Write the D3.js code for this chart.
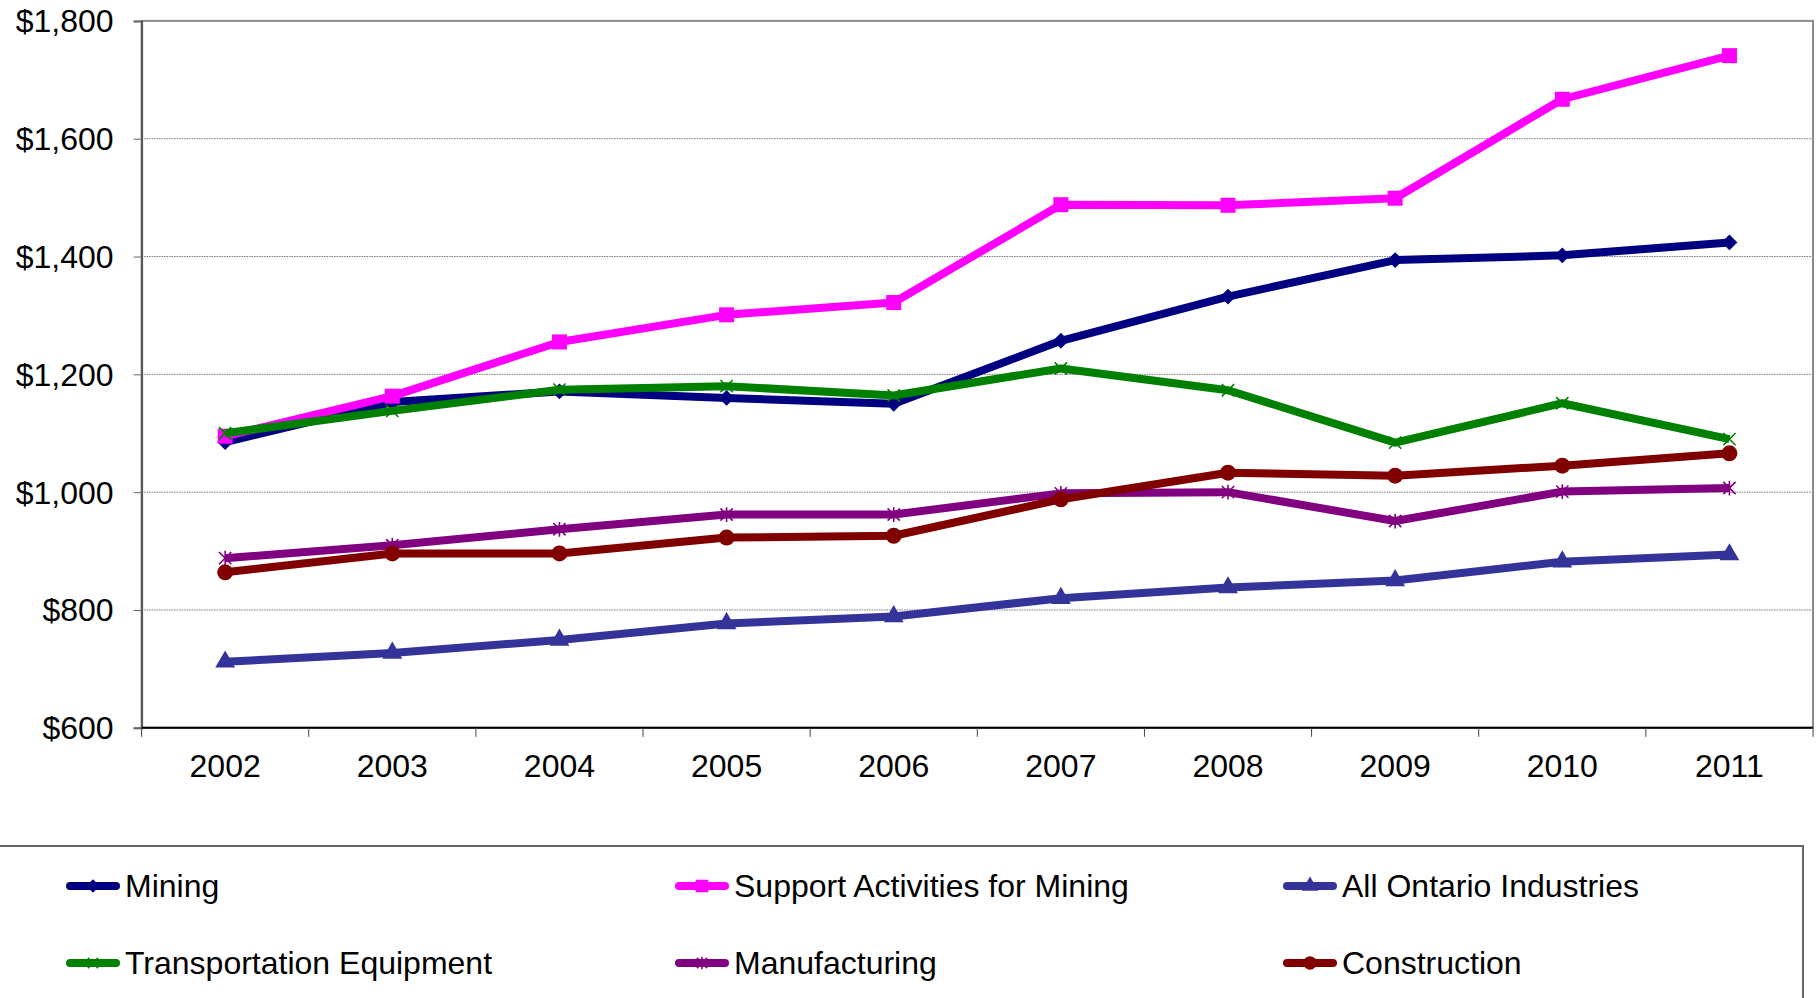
<!DOCTYPE html>
<html>
<head>
<meta charset="utf-8">
<script src="https://cdn.jsdelivr.net/npm/d3@7"></script>
<style>
  html, body { margin: 0; padding: 0; background: #fff; }
  svg { display: block; }
  text { font-family: "Liberation Sans", Arial, sans-serif; fill: #000; }
</style>
</head>
<body>
<svg id="chart" width="1820" height="998"></svg>
<script>
// data
const years = ["2002", "2003", "2004", "2005", "2006", "2007", "2008", "2009", "2010", "2011"];
const yTicks = [600, 800, 1000, 1200, 1400, 1600, 1800];

const mining         = [1085, 1153, 1171, 1160, 1150, 1257, 1332, 1394, 1402, 1424];
const supportMining  = [1095, 1163, 1255, 1301, 1322, 1488, 1487, 1499, 1667, 1741];
const allOntario     = [712, 727, 749, 777, 789, 820, 838, 850, 882, 894];
const transportation = [1100, 1138, 1174, 1180, 1164, 1210, 1173, 1084, 1151, 1090];
const manufacturing  = [888, 910, 937, 962, 962, 998, 1000, 951, 1001, 1007];
const construction   = [864, 896, 896, 923, 926, 988, 1033, 1028, 1045, 1066];

const seriesNames = ["Mining", "Support Activities for Mining", "All Ontario Industries",
                     "Transportation Equipment", "Manufacturing", "Construction"];
const seriesValues = [mining, supportMining, allOntario, transportation, manufacturing, construction];
const seriesColors = ["#000080", "#ff00ff", "#333399", "#008000", "#800080", "#800000"];

// marker shapes, excel style
const diamond = { draw(ctx, size) { const r = Math.sqrt(size) / 2 * 1.15;
  ctx.moveTo(0, -r); ctx.lineTo(r, 0); ctx.lineTo(0, r); ctx.lineTo(-r, 0); ctx.closePath(); } };
const cross = { draw(ctx, size) { const r = Math.sqrt(size) / 2;
  ctx.moveTo(-r, -r); ctx.lineTo(r, r); ctx.moveTo(r, -r); ctx.lineTo(-r, r); } };
const star = { draw(ctx, size) { const r = Math.sqrt(size) / 2;
  ctx.moveTo(-r, -r); ctx.lineTo(r, r); ctx.moveTo(r, -r); ctx.lineTo(-r, r);
  ctx.moveTo(0, -r * 1.2); ctx.lineTo(0, r * 1.2); } };
const seriesSymbols = [diamond, d3.symbolSquare, d3.symbolTriangle, cross, star, d3.symbolCircle];
const symbolSizes = [190, 225, 170, 150, 150, 200];
const symbolStroked = [false, false, false, true, true, false];

const svg = d3.select("#chart");
const plotLeft = 141.6, plotRight = 1813, plotTop = 20.9, plotBottom = 727.8;
const fontSize = 32;

const x = d3.scaleBand().domain(years).range([plotLeft, plotRight]);
const y = d3.scaleLinear().domain([600, 1800]).range([plotBottom, plotTop]);
const cx = d => x(d) + x.bandwidth() / 2;

// grid lines
svg.append("g").selectAll("line")
  .data(yTicks.slice(1, -1))
  .join("line")
    .attr("x1", plotLeft).attr("x2", plotRight)
    .attr("y1", d => y(d)).attr("y2", d => y(d))
    .attr("stroke", "#777").attr("stroke-width", 1)
    .attr("stroke-dasharray", "1.5,1");

// plot border
svg.append("rect")
  .attr("x", plotLeft).attr("y", plotTop)
  .attr("width", plotRight - plotLeft).attr("height", plotBottom - plotTop)
  .attr("fill", "none").attr("stroke", "#8c8c8c").attr("stroke-width", 2);

// y axis
const yAxis = svg.append("g")
  .attr("transform", `translate(${plotLeft},0)`)
  .call(d3.axisLeft(y).tickValues(yTicks).tickSize(8).tickPadding(20)
    .tickFormat(d => "$" + d3.format(",")(d)));
yAxis.select(".domain").attr("stroke", "#555").attr("stroke-width", 2);
yAxis.selectAll(".tick line").attr("stroke", "#666");
yAxis.selectAll("text").attr("font-size", fontSize).attr("font-family", null)
  .attr("fill", "#000").attr("dy", "0.34em");

// x axis: tick marks between categories, labels centered
const xAxis = svg.append("g");
xAxis.append("line")
  .attr("x1", plotLeft).attr("x2", plotRight).attr("y1", plotBottom).attr("y2", plotBottom)
  .attr("stroke", "#000").attr("stroke-width", 2);
xAxis.selectAll("line.tick")
  .data(years.map(d => x(d)).concat([x.range()[1]]))
  .join("line").attr("class", "tick")
    .attr("x1", d => d).attr("x2", d => d)
    .attr("y1", plotBottom).attr("y2", plotBottom + 9)
    .attr("stroke", "#444").attr("stroke-width", 1);
xAxis.selectAll("text")
  .data(years)
  .join("text")
    .attr("x", cx).attr("y", 777)
    .attr("text-anchor", "middle").attr("font-size", fontSize)
    .text(d => d);

// series lines and markers
const line = d3.line().x((d, i) => cx(years[i])).y(d => y(d));
const seriesG = svg.append("g").selectAll("g")
  .data(seriesNames)
  .join("g");

seriesG.append("path")
  .attr("d", (d, i) => line(seriesValues[i]))
  .attr("fill", "none")
  .attr("stroke", (d, i) => seriesColors[i])
  .attr("stroke-width", 8)
  .attr("stroke-linejoin", "round");

seriesG.each(function(name, i) {
  d3.select(this).selectAll("path.marker")
    .data(seriesValues[i])
    .join("path").attr("class", "marker")
      .attr("transform", (v, j) => `translate(${cx(years[j])},${y(v)})`)
      .attr("d", d3.symbol(seriesSymbols[i], symbolSizes[i]))
      .attr("fill", symbolStroked[i] ? "none" : seriesColors[i])
      .attr("stroke", seriesColors[i])
      .attr("stroke-width", symbolStroked[i] ? 1.6 : 0);
});

// legend
svg.append("rect")
  .attr("x", -2).attr("y", 846).attr("width", 1805).attr("height", 200)
  .attr("fill", "none").attr("stroke", "#666").attr("stroke-width", 2);

const legendCols = [64, 673, 1281];
const legendRows = [886, 963];
const legend = svg.append("g").selectAll("g")
  .data(seriesNames)
  .join("g")
    .attr("transform", (d, i) => `translate(${legendCols[i % 3]},${legendRows[Math.floor(i / 3)]})`);

legend.append("line")
  .attr("x1", 6).attr("x2", 52).attr("y1", 0).attr("y2", 0)
  .attr("stroke", (d, i) => seriesColors[i])
  .attr("stroke-width", 8).attr("stroke-linecap", "round");
legend.append("path")
  .attr("transform", "translate(29,0)")
  .attr("d", (d, i) => d3.symbol(seriesSymbols[i], symbolSizes[i] * 0.7)())
  .attr("fill", (d, i) => symbolStroked[i] ? "none" : seriesColors[i])
  .attr("stroke", (d, i) => seriesColors[i])
  .attr("stroke-width", (d, i) => symbolStroked[i] ? 1.6 : 0);
legend.append("text")
  .attr("x", 61).attr("y", 11)
  .attr("font-size", fontSize)
  .text(d => d);
</script>
</body>
</html>
